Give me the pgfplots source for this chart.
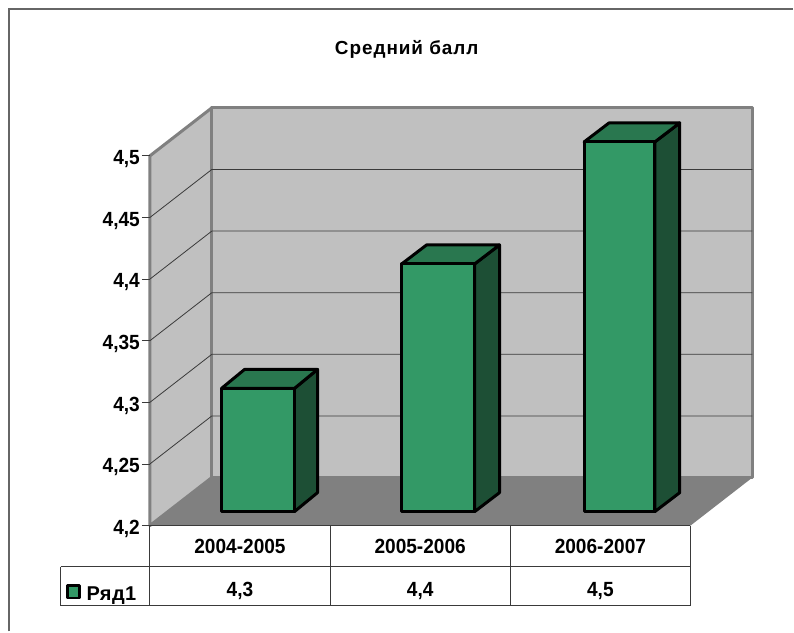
\documentclass[border=0pt]{standalone}
\usepackage{fontspec}
\setmainfont[FakeStretch=0.93]{Liberation Sans}
\newfontfamily\titlefont[LetterSpace=5]{Liberation Sans}
\newfontfamily\keyfont[LetterSpace=2]{Liberation Sans}
\usepackage{pgfplots}
\pgfplotsset{compat=1.18}
\definecolor{wall}{HTML}{C0C0C0}
\definecolor{floorc}{HTML}{808080}
\definecolor{front}{HTML}{339966}
\definecolor{topc}{HTML}{29774F}
\definecolor{sidec}{HTML}{1D4F35}
\definecolor{rule}{HTML}{3A3A3A}
\definecolor{framec}{HTML}{666666}
\begin{document}
\begin{tikzpicture}
\begin{axis}[
  scale only axis,
  width=405.75pt,
  height=277.5pt,
  xmin=-0.5, xmax=2.5,
  ymin=4.2, ymax=4.5,
  clip=false,
  axis on top,
  axis line style={draw=none},
  tick align=outside,
  xtick={0,1,2},
  xticklabels={2004-2005,2005-2006,2006-2007},
  x tick style={draw=none},
  xticklabel style={font=\fontsize{15.4}{17}\selectfont\bfseries, yshift=-1pt},
  ytick={4.2,4.25,4.3,4.35,4.4,4.45,4.5},
  y tick style={draw=rule, line width=0.6pt},
  major tick length=6pt,
  tick pos=left,
  yticklabel style={font=\fontsize{15.4}{17}\selectfont\bfseries, xshift=2pt, yshift=-2.5pt,
    /pgf/number format/fixed,
    /pgf/number format/precision=2,
    /pgf/number format/use comma,
    /pgf/number format/assume math mode=true},
  walls/.style={draw=floorc, line width=2.25pt, line join=round},
  grid3d/.style={draw=rule, line width=0.6pt},
  tab/.style={draw=rule, line width=0.75pt},
  box/.style={draw=black, line width=2.25pt, line join=round, yshift=10.5pt},
]
% page and frame
\addplot[draw=none, fill=white] coordinates {(-1.3318,4.1141) (3.0712,4.1141) (3.0712,4.6265) (-1.3318,4.6265)} -- cycle;
\addplot[draw=framec, line width=0.9pt] coordinates {(-1.2819,4.1141) (-1.2819,4.6192) (3.0712,4.6192)};

% walls and floor
\addplot[walls, fill=wall] coordinates {(-0.5,4.2) (-0.1562,4.239) (-0.1562,4.539) (-0.5,4.5)} -- cycle;
\addplot[walls, fill=wall] coordinates {(-0.1562,4.239) (2.8438,4.239) (2.8438,4.539) (-0.1562,4.539)} -- cycle;
\addplot[draw=none, fill=floorc] coordinates {(-0.5,4.2) (-0.1562,4.239) (2.8438,4.239) (2.5,4.2)} -- cycle;

% grid lines
\addplot[grid3d] coordinates {(-0.5,4.25) (-0.1562,4.289) (2.8438,4.289)};
\addplot[grid3d] coordinates {(-0.5,4.30) (-0.1562,4.339) (2.8438,4.339)};
\addplot[grid3d] coordinates {(-0.5,4.35) (-0.1562,4.389) (2.8438,4.389)};
\addplot[grid3d] coordinates {(-0.5,4.40) (-0.1562,4.439) (2.8438,4.439)};
\addplot[grid3d] coordinates {(-0.5,4.45) (-0.1562,4.489) (2.8438,4.489)};

% bars: side, top, front
\addplot[box, fill=sidec] coordinates {(0.3024,4.2) (0.4304,4.2154) (0.4304,4.3154) (0.3024,4.3)} -- cycle;
\addplot[box, fill=topc] coordinates {(-0.1024,4.3) (0.3024,4.3) (0.4304,4.3154) (0.0256,4.3154)} -- cycle;
\addplot[box, fill=front] coordinates {(-0.1024,4.2) (0.3024,4.2) (0.3024,4.3) (-0.1024,4.3)} -- cycle;

\addplot[box, fill=sidec] coordinates {(1.3024,4.2) (1.4404,4.2154) (1.4404,4.4164) (1.3024,4.401)} -- cycle;
\addplot[box, fill=topc] coordinates {(0.8976,4.401) (1.3024,4.401) (1.4404,4.4164) (1.0356,4.4164)} -- cycle;
\addplot[box, fill=front] coordinates {(0.8976,4.2) (1.3024,4.2) (1.3024,4.401) (0.8976,4.401)} -- cycle;

\addplot[box, fill=sidec] coordinates {(2.3024,4.2) (2.4404,4.2154) (2.4404,4.5154) (2.3024,4.5)} -- cycle;
\addplot[box, fill=topc] coordinates {(1.91,4.5) (2.3024,4.5) (2.4404,4.5154) (2.048,4.5154)} -- cycle;
\addplot[box, fill=front] coordinates {(1.91,4.2) (2.3024,4.2) (2.3024,4.5) (1.91,4.5)} -- cycle;

% data table
\addplot[tab] coordinates {(-0.5,4.2) (2.5,4.2)};
\addplot[tab] coordinates {(-0.9935,4.1668) (2.5,4.1668)};
\addplot[tab] coordinates {(-0.9935,4.1351) (2.5,4.1351)};
\addplot[tab] coordinates {(-0.9935,4.1668) (-0.9935,4.1351)};
\addplot[tab] coordinates {(-0.5,4.2) (-0.5,4.1351)};
\addplot[tab] coordinates {(0.5,4.2) (0.5,4.1351)};
\addplot[tab] coordinates {(1.5,4.2) (1.5,4.1351)};
\addplot[tab] coordinates {(2.5,4.2) (2.5,4.1351)};

% legend key
\addplot[draw=black, fill=front, line width=1.8pt, line join=round] coordinates {(-0.9575,4.1515) (-0.8895,4.1515) (-0.8895,4.1412) (-0.9575,4.1412)} -- cycle;

\node[font=\fontsize{15}{17}\keyfont\bfseries] at (axis cs:-0.7135,4.1435) {Ряд1};
\node[font=\fontsize{15.4}{17}\selectfont\bfseries] at (axis cs:0,4.147) {4,3};
\node[font=\fontsize{15.4}{17}\selectfont\bfseries] at (axis cs:1,4.147) {4,4};
\node[font=\fontsize{15.4}{17}\selectfont\bfseries] at (axis cs:2,4.147) {4,5};
\node[font=\fontsize{14.2}{16}\titlefont\bfseries] at (axis cs:0.925,4.5865) {Средний балл};
\end{axis}
\end{tikzpicture}
\end{document}
